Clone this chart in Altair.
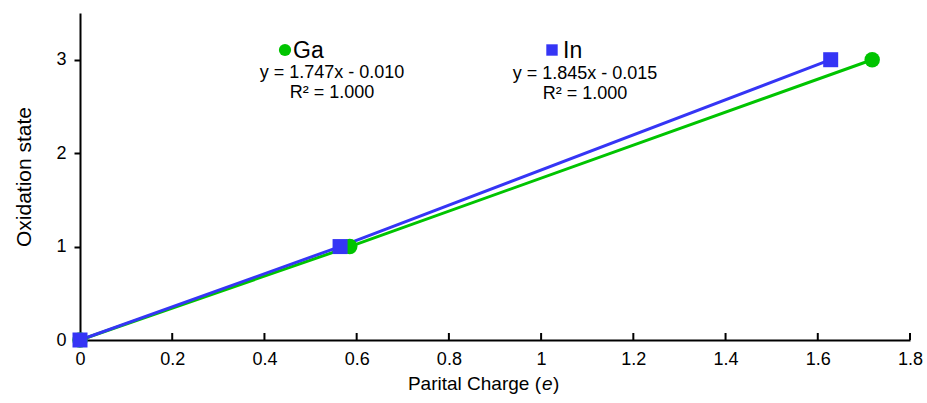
import altair as alt
import pandas as pd

# Data
ga_x = [0.0, 0.585, 1.718]
ga_y = [0, 1, 3]
in_x = [0.0, 0.564, 1.628]
in_y = [0, 1, 3]
x_ticks = [0, 0.2, 0.4, 0.6, 0.8, 1.0, 1.2, 1.4, 1.6, 1.8]
y_ticks = [0, 1, 2, 3]
ga_eq = ["y = 1.747x - 0.010", "R² = 1.000"]
in_eq = ["y = 1.845x - 0.015", "R² = 1.000"]

GREEN = "#00c400"
BLUE = "#3535f5"
FONT = "Liberation Sans"

W, H = 830, 327

df = pd.concat([
    pd.DataFrame({"x": ga_x, "y": ga_y, "s": "Ga"}),
    pd.DataFrame({"x": in_x, "y": in_y, "s": "In"}),
])

xs = alt.Scale(domain=[0, 1.8], nice=False)
ys = alt.Scale(domain=[0, 3.5], nice=False)

xaxis = alt.Axis(values=x_ticks, format="~g", ticks=False, grid=False, domainColor="black",
                 domainWidth=2, labelFont=FONT, labelFontSize=18, labelColor="black",
                 labelPadding=10, title=None, labelFlush=False)
yaxis = alt.Axis(values=y_ticks, format="d", grid=False, domainColor="black", domainWidth=2,
                 tickColor="black", tickWidth=2, tickSize=6, labelFont=FONT,
                 labelFontSize=18, labelColor="black", labelPadding=8,
                 title="Oxidation state", titleFont=FONT, titleFontSize=21,
                 titleFontWeight="normal", titleColor="black", titlePadding=21)

ga_line = alt.Chart(df[df.s == "Ga"]).mark_line(color=GREEN, strokeWidth=3, clip=False).encode(
    x=alt.X("x:Q", scale=xs, axis=xaxis), y=alt.Y("y:Q", scale=ys, axis=yaxis))
ga_pts = alt.Chart(df[df.s == "Ga"]).mark_point(shape="circle", filled=True, opacity=1,
                                                  color=GREEN, size=240, clip=False).encode(
    x=alt.X("x:Q", scale=xs), y=alt.Y("y:Q", scale=ys))
in_line = alt.Chart(df[df.s == "In"]).mark_line(color=BLUE, strokeWidth=3, clip=False).encode(
    x=alt.X("x:Q", scale=xs), y=alt.Y("y:Q", scale=ys))
in_pts = alt.Chart(df[df.s == "In"]).mark_point(shape="square", filled=True, opacity=1,
                                                  color=BLUE, size=225, clip=False).encode(
    x=alt.X("x:Q", scale=xs), y=alt.Y("y:Q", scale=ys))

tick_df = pd.DataFrame({"t": x_ticks})
xticks = alt.Chart(tick_df).mark_rule(color="black", strokeWidth=2).encode(
    x=alt.X("t:Q", scale=xs), y=alt.value(H), y2=alt.value(H - 7))

# x-axis title with italic e
TY = H + 44
t1 = alt.Chart(pd.DataFrame({"t": ["Parital Charge ("]})).mark_text(
    font=FONT, fontSize=19, align="right", baseline="middle", color="black").encode(
    text="t:N", x=alt.value(461), y=alt.value(TY))
t2 = alt.Chart(pd.DataFrame({"t": ["e"]})).mark_text(
    font=FONT, fontSize=19, fontStyle="italic", align="left", baseline="middle", color="black").encode(
    text="t:N", x=alt.value(462), y=alt.value(TY))
t3 = alt.Chart(pd.DataFrame({"t": [")"]})).mark_text(
    font=FONT, fontSize=19, align="left", baseline="middle", color="black").encode(
    text="t:N", x=alt.value(473), y=alt.value(TY))

# legend-like annotations
leg_ga_m = alt.Chart(pd.DataFrame({"t": ["Ga"]})).mark_point(
    shape="circle", filled=True, opacity=1, color=GREEN, size=150).encode(
    x=alt.value(205), y=alt.value(37))
leg_ga_t = alt.Chart(pd.DataFrame({"t": ["Ga"]})).mark_text(
    font=FONT, fontSize=23, align="left", baseline="middle", color="black").encode(
    text="t:N", x=alt.value(213), y=alt.value(38))
ga_eq_t = alt.Chart(pd.DataFrame({"t": ["\n".join(ga_eq)]})).mark_text(
    font=FONT, fontSize=18, align="center", baseline="middle", color="black",
    lineBreak="\n", lineHeight=20).encode(
    text="t:N", x=alt.value(252), y=alt.value(60))
leg_in_m = alt.Chart(pd.DataFrame({"t": ["In"]})).mark_point(
    shape="square", filled=True, opacity=1, color=BLUE, size=130).encode(
    x=alt.value(472), y=alt.value(37))
leg_in_t = alt.Chart(pd.DataFrame({"t": ["In"]})).mark_text(
    font=FONT, fontSize=23, align="left", baseline="middle", color="black").encode(
    text="t:N", x=alt.value(483), y=alt.value(38))
in_eq_t = alt.Chart(pd.DataFrame({"t": ["\n".join(in_eq)]})).mark_text(
    font=FONT, fontSize=18, align="center", baseline="middle", color="black",
    lineBreak="\n", lineHeight=20).encode(
    text="t:N", x=alt.value(505), y=alt.value(61))

final = alt.layer(
    ga_line, in_line, xticks, ga_pts, in_pts, t1, t2, t3,
    leg_ga_m, leg_ga_t, leg_in_m, leg_in_t, ga_eq_t, in_eq_t,
).properties(
    width=W, height=H,
    autosize=alt.AutoSizeParams(type="none"),
    padding={"left": 80, "top": 13, "right": 17, "bottom": 63},
    background="white",
).configure_view(stroke=None)

final.save("out.html", embed_options={"renderer": "svg", "actions": False})
